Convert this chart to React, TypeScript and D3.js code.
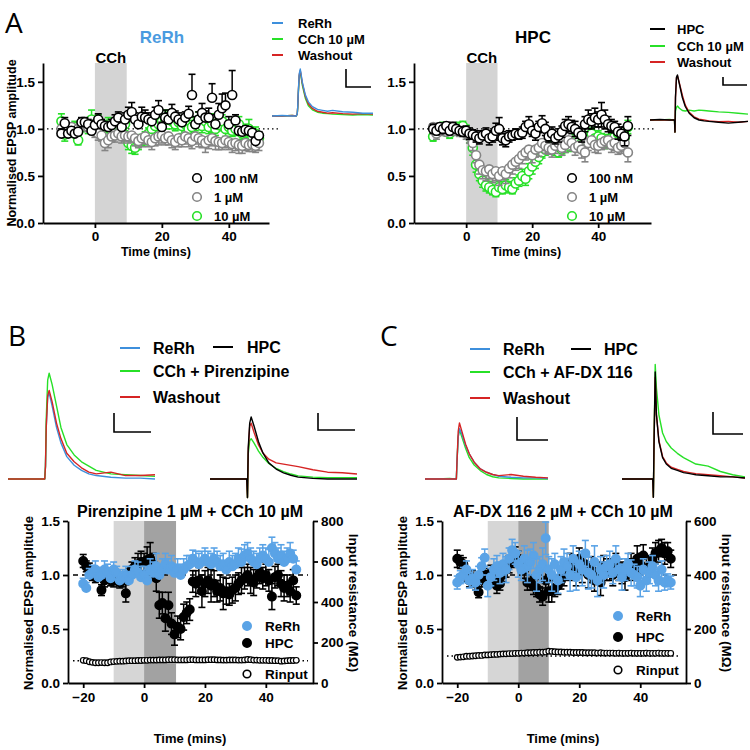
import React, { useEffect, useRef } from "react";
import * as d3 from "d3";

const FONT = "'Liberation Sans', Arial, sans-serif";
const LETTER_FONT = "'Open Sans', 'Noto Sans', sans-serif";
const BLUE = "#5aa3e6";
const TRACE_BLUE = "#3d8fdc";
const GREEN = "#27e027";
const RED = "#d62424";
const GREY = "#858585";

// ---- panel A: time points (mins) and normalised EPSP (mean, sem)
const timeA = [
  -10, -9, -8, -7, -6, -5, -4, -3, -2, -1, 0, 1, 2, 3, 4, 5, 6, 7, 8, 9,
  10, 11, 12, 13, 14, 15, 16, 17, 18, 19, 20, 21, 22, 23, 24, 25, 26, 27, 28, 29,
  30, 31, 32, 33, 34, 35, 36, 37, 38, 39, 40, 41, 42, 43, 44, 45, 46, 47, 48, 49,
];

const rerh100 = [
  0.95, 1.06, 0.95, 0.98, 0.95, 0.97, 1.07, 1.07, 1.05, 0.98,
  1.04, 1.1, 1.05, 1.03, 1.02, 1.04, 1.08, 1.12, 1.02, 1.1,
  1.15, 1.18, 1.1, 1.05, 1.13, 1.12, 1.1, 1.08, 1.15, 1.2,
  1.02, 1.12, 1.1, 1.17, 1.13, 1.1, 1.07, 1.12, 1.16, 1.36,
  1.05, 1.1, 1.17, 1.12, 1.12, 1.33, 1.05, 1.15, 1.22, 1.25,
  1.05, 1.36, 1.09, 0.98, 0.97, 0.99, 0.98, 0.96, 0.87, 0.93,
];
const rerh100Err = [
  0.05, 0.06, 0.04, 0.04, 0.03, 0.04, 0.05, 0.05, 0.05, 0.04,
  0.05, 0.06, 0.05, 0.05, 0.04, 0.06, 0.07, 0.06, 0.05, 0.07,
  0.08, 0.1, 0.07, 0.06, 0.1, 0.08, 0.07, 0.06, 0.08, 0.1,
  0.05, 0.08, 0.07, 0.09, 0.06, 0.07, 0.07, 0.06, 0.08, 0.22,
  0.08, 0.08, 0.1, 0.07, 0.1, 0.15, 0.1, 0.12, 0.15, 0.13,
  0.08, 0.26, 0.06, 0.04, 0.04, 0.04, 0.04, 0.04, 0.05, 0.04,
];
const rerh1 = [
  1.0, 0.97, 1.0, 1.02, 0.98, 1.0, 1.03, 1.05, 1.02, 1.0,
  0.97, 0.95, 0.93, 0.85, 0.88, 0.92, 0.93, 0.95, 0.92, 0.93,
  0.92, 0.93, 0.9, 0.87, 0.9, 0.92, 0.88, 0.86, 0.9, 0.92,
  0.93, 0.9, 0.92, 0.88, 0.86, 0.9, 0.88, 0.92, 0.9, 0.87,
  0.92, 0.9, 0.88, 0.85, 0.88, 0.9, 0.87, 0.86, 0.85, 0.88,
  0.86, 0.84, 0.85, 0.83, 0.82, 0.85, 0.83, 0.84, 0.82, 0.85,
];
const rerh1Err = [
  0.05, 0.06, 0.05, 0.05, 0.05, 0.05, 0.05, 0.06, 0.05, 0.05,
  0.06, 0.07, 0.06, 0.08, 0.08, 0.06, 0.07, 0.06, 0.07, 0.06,
  0.07, 0.07, 0.08, 0.07, 0.09, 0.08, 0.07, 0.08, 0.08, 0.09,
  0.08, 0.07, 0.09, 0.08, 0.08, 0.09, 0.07, 0.08, 0.09, 0.08,
  0.08, 0.09, 0.08, 0.1, 0.09, 0.08, 0.09, 0.08, 0.07, 0.08,
  0.08, 0.09, 0.08, 0.09, 0.08, 0.08, 0.07, 0.08, 0.07, 0.08,
];
const rerh10 = [
  1.08, 0.94, 1.0, 0.97, 1.02, 0.88, 1.03, 1.05, 1.02, 1.1,
  1.05, 1.08, 1.0, 1.02, 1.05, 0.98, 1.0, 1.03, 1.0, 1.05,
  0.85, 0.82, 0.8, 0.85, 0.88, 0.9, 0.95, 1.0, 1.03, 1.05,
  1.08, 1.1, 1.12, 1.08, 1.05, 1.07, 1.03, 1.05, 1.0, 1.02,
  1.05, 1.1, 1.03, 1.08, 1.02, 1.06, 1.0, 1.04, 1.08, 1.0,
  1.02, 0.98, 1.0, 1.05, 0.95, 0.98, 1.0, 0.92, 0.95, 0.9,
];
const rerh10Err = [
  0.08, 0.07, 0.06, 0.06, 0.06, 0.05, 0.06, 0.06, 0.07, 0.1,
  0.06, 0.07, 0.06, 0.06, 0.07, 0.06, 0.06, 0.07, 0.06, 0.07,
  0.07, 0.08, 0.07, 0.07, 0.06, 0.07, 0.06, 0.07, 0.08, 0.07,
  0.08, 0.1, 0.07, 0.08, 0.07, 0.07, 0.08, 0.07, 0.06, 0.07,
  0.07, 0.08, 0.07, 0.08, 0.07, 0.1, 0.07, 0.06, 0.07, 0.08,
  0.07, 0.06, 0.07, 0.08, 0.06, 0.07, 0.1, 0.06, 0.07, 0.06,
];

const hpc100 = [
  1.0, 0.98, 1.02, 1.0, 1.03, 0.98, 1.02, 1.0, 0.98, 0.97,
  0.98, 0.95, 0.94, 0.92, 0.9, 0.93, 0.95, 0.9, 0.92, 0.98,
  1.0, 0.9, 0.88, 0.92, 0.93, 0.95, 0.94, 0.96, 1.02, 1.05,
  0.98, 0.95, 1.02, 1.06, 1.0, 0.92, 0.95, 0.9, 0.93, 0.97,
  1.03, 1.05, 1.02, 1.0, 0.96, 0.93, 1.05, 1.1, 1.08, 1.12,
  1.1, 1.15, 1.1, 1.05, 1.03, 1.02, 0.97, 0.95, 0.92, 1.03,
];
const hpc100Err = [
  0.05, 0.04, 0.04, 0.05, 0.04, 0.04, 0.05, 0.04, 0.04, 0.05,
  0.05, 0.06, 0.05, 0.06, 0.06, 0.05, 0.06, 0.07, 0.06, 0.08,
  0.12, 0.07, 0.07, 0.06, 0.05, 0.05, 0.05, 0.06, 0.06, 0.08,
  0.06, 0.07, 0.06, 0.08, 0.07, 0.06, 0.07, 0.06, 0.07, 0.06,
  0.07, 0.08, 0.07, 0.08, 0.06, 0.07, 0.08, 0.1, 0.08, 0.1,
  0.08, 0.13, 0.1, 0.08, 0.07, 0.06, 0.08, 0.07, 0.1, 0.1,
];
const hpc1 = [
  1.02, 0.95, 0.98, 1.0, 0.97, 1.0, 0.98, 1.0, 0.97, 0.98,
  0.95, 0.92, 0.85, 0.72, 0.62, 0.56, 0.55, 0.57, 0.52, 0.55,
  0.5, 0.55, 0.52, 0.58, 0.62, 0.65, 0.68, 0.72, 0.75, 0.78,
  0.72, 0.78, 0.8, 0.85, 0.82, 0.8, 0.78, 0.82, 0.85, 0.8,
  0.83, 0.88, 0.85, 0.8, 0.82, 0.78, 0.75, 0.85, 0.88, 0.83,
  0.82, 0.85, 0.87, 0.88, 0.83, 0.85, 0.8, 0.82, 0.85, 0.75,
];
const hpc1Err = [
  0.05, 0.06, 0.05, 0.05, 0.04, 0.05, 0.05, 0.04, 0.05, 0.05,
  0.06, 0.07, 0.08, 0.08, 0.1, 0.09, 0.1, 0.1, 0.09, 0.1,
  0.1, 0.09, 0.1, 0.1, 0.1, 0.09, 0.1, 0.09, 0.08, 0.09,
  0.08, 0.08, 0.09, 0.08, 0.08, 0.07, 0.08, 0.08, 0.07, 0.08,
  0.08, 0.07, 0.08, 0.08, 0.07, 0.09, 0.1, 0.08, 0.07, 0.08,
  0.08, 0.07, 0.08, 0.07, 0.08, 0.08, 0.07, 0.08, 0.09, 0.1,
];
const hpc10 = [
  0.92, 1.0, 0.98, 1.02, 0.97, 0.95, 1.0, 0.98, 1.02, 1.03,
  0.98, 0.92, 0.8, 0.62, 0.52, 0.45, 0.4, 0.38, 0.35, 0.33,
  0.38, 0.36, 0.4, 0.38, 0.36, 0.42, 0.45, 0.5, 0.47, 0.55,
  0.6, 0.65, 0.7, 0.75, 0.78, 0.8, 0.82, 0.78, 0.75, 0.78,
  0.8, 0.82, 0.85, 0.88, 0.9, 0.85, 0.88, 0.92, 0.95, 0.9,
  0.92, 0.9, 0.85, 0.88, 0.9, 0.92, 0.95, 0.93, 0.9, 1.02,
];
const hpc10Err = [
  0.05, 0.05, 0.04, 0.05, 0.04, 0.05, 0.05, 0.04, 0.05, 0.05,
  0.06, 0.07, 0.08, 0.08, 0.07, 0.07, 0.06, 0.06, 0.05, 0.05,
  0.06, 0.05, 0.06, 0.06, 0.05, 0.06, 0.06, 0.07, 0.07, 0.08,
  0.08, 0.07, 0.07, 0.06, 0.06, 0.06, 0.05, 0.06, 0.05, 0.06,
  0.05, 0.06, 0.05, 0.06, 0.06, 0.05, 0.06, 0.05, 0.06, 0.05,
  0.06, 0.05, 0.06, 0.06, 0.05, 0.06, 0.05, 0.06, 0.06, 0.07,
];

// ---- panels B / C: time points (mins)
const timeBC = [
  -20, -19, -18, -17, -16, -15, -14, -13, -12, -11, -10, -9, -8, -7, -6, -5, -4, -3, -2, -1,
  0, 1, 2, 3, 4, 5, 6, 7, 8, 9, 10, 11, 12, 13, 14, 15, 16, 17, 18, 19,
  20, 21, 22, 23, 24, 25, 26, 27, 28, 29, 30, 31, 32, 33, 34, 35, 36, 37, 38, 39,
  40, 41, 42, 43, 44, 45, 46, 47, 48, 49, 50,
];

const pirRerh = [
  0.92, 0.88, 1.0, 1.02, 1.05, 0.98, 1.0, 1.05, 1.03, 0.97,
  1.05, 1.02, 0.95, 0.98, 1.0, 0.95, 1.0, 1.05, 1.02, 0.98,
  1.0, 0.95, 1.05, 1.02, 1.08, 1.0, 1.05, 1.1, 1.05, 1.08,
  1.02, 1.05, 1.0, 1.05, 1.08, 1.1, 1.15, 1.12, 1.1, 1.12,
  1.15, 1.12, 1.1, 1.15, 1.12, 1.08, 1.1, 1.05, 1.12, 1.08,
  1.1, 1.15, 1.12, 1.18, 1.2, 1.15, 1.12, 1.1, 1.15, 1.18,
  1.15, 1.12, 1.25, 1.2, 1.15, 1.18, 1.12, 1.15, 1.2, 1.15,
  1.05,
];
const pirRerhErr = [
  0.05, 0.05, 0.06, 0.07, 0.08, 0.06, 0.07, 0.08, 0.07, 0.06,
  0.07, 0.06, 0.08, 0.07, 0.08, 0.07, 0.08, 0.08, 0.1, 0.1,
  0.08, 0.1, 0.1, 0.1, 0.12, 0.1, 0.1, 0.1, 0.1, 0.1,
  0.08, 0.1, 0.1, 0.1, 0.1, 0.08, 0.08, 0.1, 0.1, 0.1,
  0.1, 0.1, 0.1, 0.1, 0.1, 0.1, 0.1, 0.08, 0.1, 0.1,
  0.1, 0.1, 0.12, 0.1, 0.1, 0.1, 0.1, 0.1, 0.1, 0.1,
  0.1, 0.12, 0.1, 0.1, 0.1, 0.1, 0.1, 0.1, 0.1, 0.08,
  0.08,
];
const pirHpc = [
  1.13, 1.08, 1.05, 1.0, 0.98, 1.0, 0.86, 0.95, 0.98, 0.95,
  0.95, 0.97, 0.93, 0.95, 0.83, 1.0, 1.05, 1.08, 1.1, 1.12,
  1.12, 1.14, 1.15, 1.1, 0.97, 0.72, 0.74, 0.6, 0.72, 0.55,
  0.45, 0.52, 0.5, 0.61, 0.65, 0.68, 0.94, 0.92, 0.95, 0.85,
  0.92, 0.95, 0.9, 0.92, 0.85, 0.88, 0.83, 0.85, 0.82, 0.86,
  0.88, 0.92, 0.95, 0.97, 1.0, 0.95, 0.93, 0.98, 1.02, 0.97,
  1.0, 0.95, 0.8, 0.98, 1.0, 0.92, 0.88, 0.9, 0.85, 0.95,
  0.81,
];
const pirHpcErr = [
  0.06, 0.05, 0.06, 0.05, 0.05, 0.05, 0.05, 0.06, 0.05, 0.05,
  0.06, 0.06, 0.05, 0.06, 0.08, 0.06, 0.07, 0.08, 0.1, 0.1,
  0.08, 0.12, 0.15, 0.1, 0.12, 0.12, 0.1, 0.12, 0.12, 0.1,
  0.1, 0.1, 0.1, 0.12, 0.1, 0.1, 0.1, 0.12, 0.12, 0.15,
  0.12, 0.12, 0.15, 0.12, 0.1, 0.12, 0.15, 0.12, 0.1, 0.12,
  0.12, 0.1, 0.12, 0.1, 0.1, 0.12, 0.12, 0.1, 0.1, 0.1,
  0.1, 0.1, 0.12, 0.1, 0.1, 0.12, 0.12, 0.1, 0.1, 0.1,
  0.08,
];
const pirRin = [
  112, 110, 105, 102, 100, 100, 101, 100, 100, 104,
  106, 107, 108, 108, 109, 110, 110, 110, 111, 111,
  112, 112, 113, 113, 113, 114, 114, 114, 115, 115,
  115, 114, 114, 114, 114, 115, 115, 114, 114, 114,
  114, 115, 115, 115, 114, 114, 113, 113, 114, 114,
  114, 113, 113, 114, 116, 115, 113, 113, 112, 112,
  112, 111, 111, 110, 110, 108, 109, 110, 111, 111,
  112,
];

const afdxRerh = [
  0.93, 0.98, 1.0, 1.05, 0.95, 0.97, 0.93, 1.0, 1.08, 1.16,
  0.9, 0.98, 1.05, 1.08, 1.02, 1.1, 1.05, 1.15, 1.23, 1.2,
  1.1, 1.05, 1.15, 1.08, 1.12, 1.18, 1.0, 1.05, 1.1, 1.34,
  1.05, 1.0, 1.1, 0.95, 1.05, 1.12, 1.08, 1.0, 1.15, 0.98,
  1.1, 1.05, 1.2, 1.02, 1.0, 1.12, 0.95, 1.05, 1.0, 1.08,
  1.1, 1.02, 1.15, 1.05, 0.98, 1.05, 1.1, 1.02, 1.0, 0.98,
  0.9, 1.05, 0.95, 1.02, 1.08, 1.0, 0.95, 1.05, 0.93, 0.95,
  0.93,
];
const afdxRerhErr = [
  0.06, 0.06, 0.07, 0.08, 0.07, 0.08, 0.07, 0.08, 0.08, 0.08,
  0.1, 0.08, 0.1, 0.1, 0.1, 0.1, 0.12, 0.1, 0.1, 0.1,
  0.12, 0.1, 0.12, 0.15, 0.12, 0.12, 0.15, 0.12, 0.15, 0.15,
  0.12, 0.15, 0.1, 0.12, 0.12, 0.12, 0.12, 0.15, 0.12, 0.12,
  0.12, 0.15, 0.12, 0.15, 0.12, 0.15, 0.15, 0.12, 0.12, 0.1,
  0.12, 0.1, 0.12, 0.1, 0.12, 0.1, 0.1, 0.12, 0.1, 0.1,
  0.1, 0.1, 0.1, 0.1, 0.1, 0.1, 0.1, 0.08, 0.07, 0.06,
  0.06,
];
const afdxHpc = [
  1.15, 1.12, 1.1, 1.0, 0.95, 0.98, 0.92, 0.84, 0.95, 1.0,
  0.98, 1.02, 0.95, 0.9, 0.92, 1.0, 1.05, 1.1, 1.15, 1.18,
  1.15, 1.1, 1.05, 0.93, 0.93, 0.9, 0.88, 0.82, 0.8, 0.95,
  0.85, 0.85, 0.88, 0.9, 0.95, 1.0, 1.05, 1.1, 1.05, 1.0,
  1.15, 1.05, 1.1, 1.0, 1.05, 0.95, 1.02, 0.93, 1.08, 1.05,
  1.05, 1.0, 1.1, 1.05, 1.02, 0.98, 1.05, 1.1, 1.05, 1.15,
  1.1, 1.18, 1.05, 1.08, 1.15, 1.2, 1.22, 1.25, 1.2, 1.22,
  1.15,
];
const afdxHpcErr = [
  0.08, 0.06, 0.06, 0.06, 0.06, 0.06, 0.06, 0.05, 0.06, 0.06,
  0.06, 0.07, 0.06, 0.07, 0.06, 0.06, 0.07, 0.08, 0.08, 0.08,
  0.07, 0.08, 0.08, 0.07, 0.07, 0.08, 0.08, 0.07, 0.08, 0.1,
  0.1, 0.1, 0.08, 0.08, 0.08, 0.1, 0.1, 0.1, 0.1, 0.1,
  0.1, 0.12, 0.1, 0.12, 0.12, 0.1, 0.1, 0.12, 0.1, 0.1,
  0.1, 0.1, 0.1, 0.1, 0.1, 0.12, 0.1, 0.1, 0.1, 0.12,
  0.1, 0.1, 0.12, 0.1, 0.1, 0.1, 0.1, 0.08, 0.1, 0.08,
  0.08,
];
const afdxRin = [
  95, 96, 97, 99, 99, 100, 101, 102, 102, 104,
  104, 105, 106, 106, 107, 108, 108, 109, 109, 110,
  110, 111, 111, 112, 112, 113, 113, 114, 114, 115,
  118, 117, 116, 115, 115, 114, 114, 114, 113, 113,
  113, 113, 112, 112, 112, 112, 111, 112, 111, 111,
  111, 111, 110, 111, 110, 110, 110, 111, 110, 110,
  110, 110, 111, 110, 110, 110, 111, 110, 110, 110,
  110,
];

// ---- example EPSP traces (sample time, amplitude in units of each group's scale bar)
const traceT = [0, 10, 20, 24, 25, 25.5, 26, 27, 28, 30, 33, 36, 40, 45, 50, 55, 60, 70, 80, 90, 100];
const aRerhCtrl = [0, 0.01, 0, 0, 0.05, 0.2, 0.5, 0.9, 1.0, 0.72, 0.45, 0.3, 0.2, 0.14, 0.12, 0.1, 0.12, 0.09, 0.08, 0.06, 0.06];
const aRerhCch = [0, 0, 0.01, 0, 0.04, 0.18, 0.45, 0.85, 0.95, 0.66, 0.38, 0.22, 0.13, 0.08, 0.06, 0.05, 0.04, 0.03, 0.02, 0.03, 0.02];
const aRerhWash = [0, 0, 0.01, 0, 0.05, 0.2, 0.48, 0.88, 0.97, 0.7, 0.42, 0.26, 0.16, 0.1, 0.08, 0.06, 0.07, 0.05, 0.04, 0.05, 0.04];
const aHpcCtrl = [0, 0.01, 0, 0, 0, -0.27, 0.5, 0.95, 1.0, 0.8, 0.5, 0.3, 0.15, 0.05, 0, -0.02, -0.03, -0.05, -0.07, -0.05, -0.03];
const aHpcCch = [0, 0, 0.01, 0, 0, -0.27, 0.2, 0.28, 0.31, 0.26, 0.21, 0.2, 0.22, 0.2, 0.22, 0.21, 0.2, 0.18, 0.17, 0.15, 0.13];
const aHpcWash = [0, 0, 0, 0, 0, -0.27, 0.5, 0.93, 0.98, 0.82, 0.55, 0.33, 0.17, 0.07, 0.02, 0, -0.02, -0.04, -0.03, -0.05, -0.03];
const bRerhCtrl = [0, 0, 0, 0, 0, 0.15, 0.6, 0.95, 1.0, 0.85, 0.6, 0.42, 0.26, 0.16, 0.1, 0.06, 0.04, 0.02, 0.01, 0.01, 0];
const bRerhCch = [0, 0, 0, 0, 0, 0.15, 0.7, 1.15, 1.23, 1.1, 0.85, 0.6, 0.4, 0.28, 0.2, 0.15, 0.1, 0.06, 0.05, 0.04, 0.03];
const bRerhWash = [0, 0, 0, 0, 0, 0.15, 0.6, 0.97, 1.03, 0.9, 0.65, 0.47, 0.3, 0.2, 0.13, 0.08, 0.06, 0.08, 0.04, 0.04, 0.05];
const bHpcCtrl = [0, 0, 0, 0, 0, -0.3, 0.5, 0.9, 1.0, 0.85, 0.6, 0.42, 0.26, 0.16, 0.1, 0.06, 0.03, 0.01, 0, 0, 0];
const bHpcCch = [0, 0, 0, 0, 0, -0.3, 0.4, 0.62, 0.65, 0.58, 0.45, 0.35, 0.25, 0.17, 0.12, 0.08, 0.05, 0.03, 0.02, 0.02, 0.02];
const bHpcWash = [0, 0, 0, 0, 0, -0.3, 0.45, 0.85, 0.9, 0.75, 0.55, 0.42, 0.32, 0.26, 0.24, 0.22, 0.2, 0.15, 0.11, 0.1, 0.08];
const cRerhCtrl = [0, 0, 0, 0, 0, 0, 0.3, 0.75, 0.9, 0.8, 0.6, 0.45, 0.3, 0.18, 0.12, 0.08, 0.05, 0.03, 0.02, 0.02, 0.01];
const cRerhCch = [0, 0, 0.01, 0, 0, 0, 0.3, 0.75, 0.88, 0.75, 0.55, 0.38, 0.25, 0.15, 0.08, 0.04, 0.02, 0.01, 0, 0, 0];
const cRerhWash = [0, 0, 0, 0, 0, 0, 0.3, 0.85, 1.0, 0.85, 0.62, 0.45, 0.3, 0.18, 0.12, 0.08, 0.06, 0.08, 0.05, 0.03, 0.02];
const cHpcCtrl = [0, 0, 0, 0, 0, -0.17, 0.3, 1.0, 0.6, 0.35, 0.2, 0.14, 0.1, 0.08, 0.06, 0.05, 0.04, 0.03, 0.02, 0.02, 0.01];
const cHpcCch = [0, 0, 0, 0, 0, -0.17, 0.3, 1.07, 0.85, 0.6, 0.43, 0.35, 0.29, 0.24, 0.2, 0.17, 0.14, 0.12, 0.07, 0.04, 0.02];
const cHpcWash = [0, 0, 0, 0, 0, -0.17, 0.3, 0.95, 0.6, 0.36, 0.21, 0.15, 0.11, 0.09, 0.07, 0.06, 0.05, 0.04, 0.03, 0.02, 0.01];

const doseLabels = ["100 nM", "1 µM", "10 µM"];
const ticksA = [0, 20, 40];
const ticksBC = [-20, 0, 20, 40];
const ticksY = [0, 0.5, 1.0, 1.5];
const ticksRinB = [0, 200, 400, 600, 800];
const ticksRinC = [0, 200, 400, 600];
const cchWindowA = [0, 9.5];
const antagonistWindow = [-10, 0];
const cchWindowBC = [0, 10.5];

type Sel = d3.Selection<any, any, any, any>;

function txt(g: Sel, x: number, y: number, s: string, size: number, o: any = {}) {
  const t = g.append("text")
    .attr("x", x).attr("y", y)
    .attr("font-family", o.family || FONT)
    .attr("font-weight", o.weight || "bold")
    .attr("font-size", size)
    .attr("fill", o.fill || "#000")
    .attr("text-anchor", o.anchor || "start")
    .attr("dominant-baseline", o.baseline || "auto")
    .text(s);
  if (o.rotate) t.attr("transform", `rotate(${o.rotate},${x},${y})`);
  return t;
}

function styleAxis(g: Sel) {
  g.attr("font-family", null).attr("font-size", null);
  g.select(".domain").attr("stroke", "#000").attr("stroke-width", 1.8);
  g.selectAll(".tick line").attr("stroke", "#000").attr("stroke-width", 1.8);
  g.selectAll(".tick text")
    .attr("font-family", FONT).attr("font-weight", "bold")
    .attr("font-size", 13.5).attr("fill", "#000");
}

function drawSeries(g: Sel, x: any, y: any, t: number[], v: number[], e: number[] | null,
  dir: string, color: string, filled: boolean, r: number, sw = 1.6) {
  const s = g.append("g");
  if (e) {
    t.forEach((ti, i) => {
      const cx = x(ti);
      const hi = dir === "down" ? v[i] : v[i] + e[i];
      const lo = dir === "up" ? v[i] : v[i] - e[i];
      s.append("line").attr("x1", cx).attr("x2", cx).attr("y1", y(hi)).attr("y2", y(lo))
        .attr("stroke", color).attr("stroke-width", 1.5);
      if (dir !== "down") s.append("line").attr("x1", cx - 3.5).attr("x2", cx + 3.5)
        .attr("y1", y(hi)).attr("y2", y(hi)).attr("stroke", color).attr("stroke-width", 1.6);
      if (dir !== "up") s.append("line").attr("x1", cx - 3.5).attr("x2", cx + 3.5)
        .attr("y1", y(lo)).attr("y2", y(lo)).attr("stroke", color).attr("stroke-width", 1.6);
    });
  }
  s.selectAll("circle").data(t).join("circle")
    .attr("cx", (d) => x(d)).attr("cy", (_, i) => y(v[i])).attr("r", r)
    .attr("fill", filled ? color : "#fff").attr("stroke", color).attr("stroke-width", sw);
}

function drawTraces(g: Sel, x0: number, x1: number, base: number, unit: number,
  series: [number[], string][], bar: number[]) {
  const x = d3.scaleLinear().domain([0, 100]).range([x0, x1]);
  const y = d3.scaleLinear().domain([0, 1]).range([base, base - unit]);
  const line = d3.line<number>().x((_, i) => x(traceT[i])).y((d) => y(d));
  series.forEach(([vals, color]) => {
    g.append("path").attr("d", line(vals)).attr("fill", "none")
      .attr("stroke", color).attr("stroke-width", 1.4).attr("stroke-linejoin", "round");
  });
  g.append("path").attr("d", `M${bar[0]},${bar[1]}V${bar[2]}H${bar[3]}`)
    .attr("fill", "none").attr("stroke", "#000").attr("stroke-width", 1.6);
}

function traceLegend(g: Sel, lx0: number, lx1: number, tx: number, items: [string, string, number][], size: number) {
  items.forEach(([label, color, yy]) => {
    g.append("line").attr("x1", lx0).attr("x2", lx1).attr("y1", yy).attr("y2", yy)
      .attr("stroke", color).attr("stroke-width", 2);
    txt(g, tx, yy, label, size, { baseline: "central" });
  });
}

function panelA(svg: Sel, o: any) {
  const g = svg.append("g");
  const x = d3.scaleLinear().domain(o.xDomain).range(o.xRange);
  const y = d3.scaleLinear().domain([0, 1.7]).range([223, 63]);
  g.append("rect").attr("x", x(cchWindowA[0])).attr("width", x(cchWindowA[1]) - x(cchWindowA[0]))
    .attr("y", y(1.7)).attr("height", y(0) - y(1.7)).attr("fill", "#d4d4d4");
  txt(g, (x(cchWindowA[0]) + x(cchWindowA[1])) / 2, 63, "CCh", 15, { anchor: "middle" });
  g.append("line").attr("x1", o.xRange[0] + 4).attr("x2", o.dotEnd).attr("y1", y(1)).attr("y2", y(1))
    .attr("stroke", "#000").attr("stroke-width", 1.4).attr("stroke-dasharray", "1.5,3");
  drawSeries(g, x, y, timeA, o.s10, o.e10, "both", GREEN, false, 4.5);
  drawSeries(g, x, y, timeA, o.s1, o.e1, "down", GREY, false, 4.5);
  drawSeries(g, x, y, timeA, o.s100, o.e100, o.dir100, "#000", false, 4.5);
  const ay = g.append("g").attr("transform", `translate(${o.xRange[0]},0)`)
    .call(d3.axisLeft(y).tickValues(ticksY).tickFormat(d3.format(".1f")).tickSize(5).tickSizeOuter(0).tickPadding(3));
  styleAxis(ay);
  const ax = g.append("g").attr("transform", `translate(0,223)`)
    .call(d3.axisBottom(x).tickValues(ticksA).tickFormat(d3.format("d")).tickSize(5).tickSizeOuter(0).tickPadding(3));
  styleAxis(ax);
  txt(g, o.titleX, 43, o.title, 17, { anchor: "middle", fill: o.titleFill });
  txt(g, x(20) - 6, 256, "Time (mins)", 12.5, { anchor: "middle" });
  // dose legend
  const cols = ["#000", GREY, GREEN];
  doseLabels.forEach((lab, i) => {
    const yy = o.legY[i];
    g.append("circle").attr("cx", o.legX).attr("cy", yy).attr("r", 4.3)
      .attr("fill", "#fff").attr("stroke", cols[i]).attr("stroke-width", 1.6);
    txt(g, o.legX + 17, yy, lab, 13, { baseline: "central" });
  });
}

function panelBC(svg: Sel, o: any) {
  const g = svg.append("g");
  const x = d3.scaleLinear().domain(o.xDomain).range(o.xRange);
  const y = d3.scaleLinear().domain([0, 1.5]).range([683, 521]);
  const yr = d3.scaleLinear().domain([0, o.rinMax]).range([683, 521]);
  g.append("rect").attr("x", x(antagonistWindow[0])).attr("width", x(antagonistWindow[1]) - x(antagonistWindow[0]))
    .attr("y", 521).attr("height", 162).attr("fill", "#d6d6d6");
  g.append("rect").attr("x", x(cchWindowBC[0])).attr("width", x(o.cchEnd) - x(cchWindowBC[0]))
    .attr("y", 521).attr("height", 162).attr("fill", "#a2a2a2");
  g.append("line").attr("x1", o.xRange[0] + 5).attr("x2", o.xRange[1] - 5).attr("y1", y(1)).attr("y2", y(1))
    .attr("stroke", "#000").attr("stroke-width", 1.5).attr("stroke-dasharray", "5,4");
  g.append("line").attr("x1", o.xRange[0] + 5).attr("x2", o.xRange[1] - 5).attr("y1", yr(o.rinRef)).attr("y2", yr(o.rinRef))
    .attr("stroke", "#000").attr("stroke-width", 1.4).attr("stroke-dasharray", "1.5,3");
  drawSeries(g, x, yr, timeBC, o.rin, null, "both", "#000", false, 2.8, 1.2);
  o.order.forEach((k: string) => {
    if (k === "hpc") drawSeries(g, x, y, timeBC, o.hpc, o.hpcErr, o.hpcDir, "#000", true, 4.2);
    else drawSeries(g, x, y, timeBC, o.rerh, o.rerhErr, o.rerhDir, BLUE, true, 4.2);
  });
  const ay = g.append("g").attr("transform", `translate(${o.xRange[0]},0)`)
    .call(d3.axisLeft(y).tickValues(ticksY).tickFormat(d3.format(".1f")).tickSize(5).tickSizeOuter(0).tickPadding(3));
  styleAxis(ay);
  const ar = g.append("g").attr("transform", `translate(${o.xRange[1]},0)`)
    .call(d3.axisRight(yr).tickValues(o.rinTicks).tickFormat(d3.format("d")).tickSize(5).tickSizeOuter(0).tickPadding(3));
  styleAxis(ar);
  const ax = g.append("g").attr("transform", `translate(0,683)`)
    .call(d3.axisBottom(x).tickValues(ticksBC).tickFormat(d3.format("d")).tickSize(5).tickSizeOuter(0).tickPadding(4));
  styleAxis(ax);
  txt(g, o.titleX, 511, o.title, 16, { anchor: "middle", baseline: "central" });
  txt(g, o.titleX, 738, "Time (mins)", 13, { anchor: "middle", baseline: "central" });
  txt(g, o.xRange[0] - 40, 603, "Normalised EPSP amplitude", 13, { anchor: "middle", baseline: "central", rotate: -90 });
  txt(g, o.xRange[1] + 40, 603, "Input resistance (MΩ)", 13.5, { anchor: "middle", baseline: "central", rotate: 90 });
  const leg: [string, string, boolean, number][] = [
    ["ReRh", BLUE, true, o.legY[0]], ["HPC", "#000", true, o.legY[1]], ["Rinput", "#000", false, o.legY[2]],
  ];
  leg.forEach(([lab, c, f, yy]) => {
    g.append("circle").attr("cx", o.legX).attr("cy", yy).attr("r", f ? 4.2 : 3.8)
      .attr("fill", f ? c : "#fff").attr("stroke", c).attr("stroke-width", 1.6);
    txt(g, o.legX + 18, yy, lab, 13.5, { baseline: "central", weight: "bold" });
  });
}

const App = () => {
  const ref = useRef<SVGSVGElement>(null);

  useEffect(() => {
    const svg = d3.select(ref.current);
    svg.selectAll("*").remove();
    svg.append("rect").attr("width", 750).attr("height", 750).attr("fill", "#fff");

    // panel letters
    txt(svg, 5, 33, "A", 28, { weight: "normal", family: LETTER_FONT });
    txt(svg, 8, 346, "B", 28, { weight: "normal", family: LETTER_FONT });
    txt(svg, 380, 346, "C", 28, { weight: "normal", family: LETTER_FONT });

    panelA(svg, {
      xDomain: [-15.5, 52], xRange: [43, 269], dotEnd: 278,
      s100: rerh100, e100: rerh100Err, dir100: "up",
      s1: rerh1, e1: rerh1Err, s10: rerh10, e10: rerh10Err,
      title: "ReRh", titleX: 162, titleFill: "#4a9be0",
      legX: 197, legY: [178, 197, 216],
    });
    txt(svg, 12, 143, "Normalised EPSP amplitude", 12.5, { anchor: "middle", baseline: "central", rotate: -90 });
    panelA(svg, {
      xDomain: [-15.8, 56], xRange: [414, 651], dotEnd: 655,
      s100: hpc100, e100: hpc100Err, dir100: "both",
      s1: hpc1, e1: hpc1Err, s10: hpc10, e10: hpc10Err,
      title: "HPC", titleX: 533, titleFill: "#000",
      legX: 572, legY: [178, 197, 216],
    });

    // panel A traces
    drawTraces(svg, 272, 373, 116, 47,
      [[aRerhCch, GREEN], [aRerhWash, RED], [aRerhCtrl, TRACE_BLUE]], [346, 69, 87, 371]);
    traceLegend(svg, 272, 283, 298, [["ReRh", TRACE_BLUE, 23], ["CCh 10 µM", GREEN, 39], ["Washout", RED, 55]], 13);
    drawTraces(svg, 650, 748, 120, 45,
      [[aHpcCch, GREEN], [aHpcWash, RED], [aHpcCtrl, "#000"]], [723, 77, 85, 747]);
    traceLegend(svg, 650, 665, 677, [["HPC", "#000", 29], ["CCh 10 µM", GREEN, 46], ["Washout", RED, 62]], 13);

    // panel B traces + legend
    traceLegend(svg, 120, 140, 153, [["ReRh", TRACE_BLUE, 348], ["CCh + Pirenzipine", GREEN, 371], ["Washout", RED, 397]], 16);
    traceLegend(svg, 213, 233, 247, [["HPC", "#000", 347]], 16);
    drawTraces(svg, 8, 155, 479, 86,
      [[bRerhCtrl, TRACE_BLUE], [bRerhCch, GREEN], [bRerhWash, RED]], [114, 413, 432, 151]);
    drawTraces(svg, 210, 357, 479, 62,
      [[bHpcCch, GREEN], [bHpcWash, RED], [bHpcCtrl, "#000"]], [318, 413, 430, 355]);

    // panel C traces + legend
    traceLegend(svg, 470, 490, 503, [["ReRh", TRACE_BLUE, 349], ["CCh + AF-DX 116", GREEN, 372], ["Washout", RED, 398]], 16);
    traceLegend(svg, 571, 591, 604, [["HPC", "#000", 349]], 16);
    drawTraces(svg, 425, 548, 479, 56,
      [[cRerhCch, GREEN], [cRerhCtrl, TRACE_BLUE], [cRerhWash, RED]], [517, 417, 440, 548]);
    drawTraces(svg, 622, 745, 479, 107,
      [[cHpcCch, GREEN], [cHpcWash, RED], [cHpcCtrl, "#000"]], [713, 412, 434, 743]);

    panelBC(svg, {
      xDomain: [-25, 55.5], xRange: [68, 313], cchEnd: 10.5,
      rin: pirRin, rinMax: 800, rinRef: 110, rinTicks: ticksRinB,
      rerh: pirRerh, rerhErr: pirRerhErr, rerhDir: "up",
      hpc: pirHpc, hpcErr: pirHpcErr, hpcDir: "both", order: ["hpc", "rerh"],
      title: "Pirenzipine 1 µM + CCh 10 µM", titleX: 190,
      legX: 247, legY: [626, 643, 674],
    });
    panelBC(svg, {
      xDomain: [-25, 55], xRange: [442, 686], cchEnd: cchWindowBC[1] - 0.5,
      rin: afdxRin, rinMax: 600, rinRef: 100, rinTicks: ticksRinC,
      rerh: afdxRerh, rerhErr: afdxRerhErr, rerhDir: "both",
      hpc: afdxHpc, hpcErr: afdxHpcErr, hpcDir: "both", order: ["hpc", "rerh"],
      title: "AF-DX 116 2 µM + CCh 10 µM", titleX: 563,
      legX: 618, legY: [616, 637, 670],
    });
  }, []);

  return (
    <svg ref={ref} width={750} height={750}
      style={{ position: "absolute", left: 0, top: 0, display: "block" }} />
  );
};

export default App;
